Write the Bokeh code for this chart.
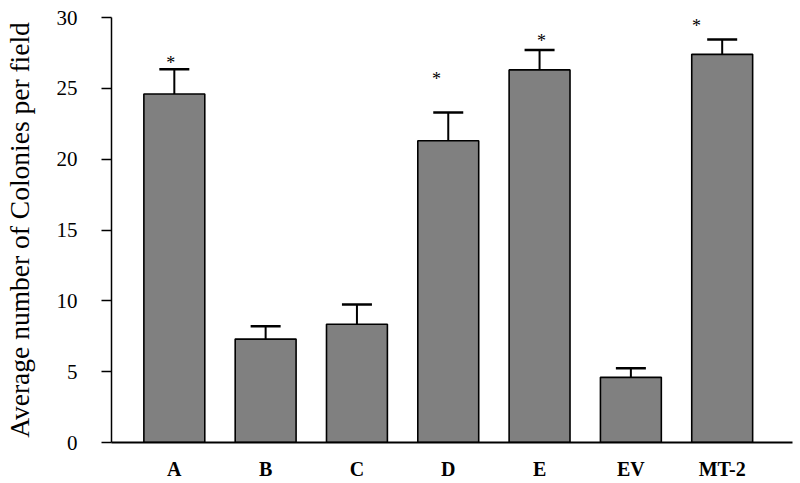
from bokeh.plotting import figure
from bokeh.models import Range1d, FixedTicker, Whisker, TeeHead, ColumnDataSource
from bokeh.core.properties import value
from bokeh.embed import file_html
from bokeh.resources import INLINE

# ---- data ----
categories = ["A", "B", "C", "D", "E", "EV", "MT-2"]
means = [24.6, 7.3, 8.35, 21.3, 26.3, 4.6, 27.4]
errors = [1.75, 0.9, 1.4, 2.0, 1.4, 0.65, 1.05]
y_ticks = [0, 5, 10, 15, 20, 25, 30]

# significance markers (annotation)
star_cats = ["A", "D", "E", "MT-2"]
star_y = [27.15, 26.0, 28.7, 29.72]
star_dx = [-0.04, -0.13, 0.02, -0.28]

idx = list(range(len(categories)))
upper = [m + e for m, e in zip(means, errors)]
src = ColumnDataSource(dict(x=idx, top=means, upper=upper))

FONT = "Liberation Serif"

p = figure(width=800, height=483, output_backend="svg", toolbar_location=None,
           x_range=Range1d(-0.688, 6.77), y_range=Range1d(0, 30),
           min_border_left=110, min_border_right=8, min_border_top=17,
           min_border_bottom=41)
p.outline_line_color = None
p.xgrid.visible = False
p.ygrid.visible = False
p.background_fill_color = "white"
p.border_fill_color = "white"

p.vbar(x="x", top="top", width=0.667, source=src,
       fill_color="#808080", line_color="black", line_width=1.6)

p.add_layout(Whisker(base="x", upper="upper", lower="top", source=src,
                     line_color="black", line_width=2, lower_head=None,
                     upper_head=TeeHead(size=30, line_color="black", line_width=2.5)))

sx = [categories.index(c) + d for c, d in zip(star_cats, star_dx)]
p.text(x=sx, y=star_y, text=["*"] * len(sx), text_font=value(FONT),
       text_font_size="18px", text_align="center", text_baseline="middle",
       y_offset=5, text_color="black")

# y axis
ya = p.yaxis[0]
ya.ticker = FixedTicker(ticks=y_ticks)
ya.minor_tick_line_color = None
ya.major_tick_in = 0
ya.major_tick_out = 10
ya.major_tick_line_width = 1.5
ya.axis_line_width = 1.5
ya.axis_line_color = "black"
ya.major_tick_line_color = "black"
ya.major_label_standoff = 24
ya.major_label_text_font = FONT
ya.major_label_text_font_size = "21px"
ya.major_label_text_color = "black"
ya.axis_label = "Average number of Colonies per field"
ya.axis_label_text_font = FONT
ya.axis_label_text_font_size = "27.5px"
ya.axis_label_text_font_style = "normal"
ya.axis_label_text_color = "black"
ya.axis_label_standoff = 19

# x axis
xa = p.xaxis[0]
xa.ticker = FixedTicker(ticks=idx)
xa.major_label_overrides = {i: c for i, c in zip(idx, categories)}
xa.minor_tick_line_color = None
xa.major_tick_line_color = None
xa.major_tick_in = 0
xa.major_tick_out = 0
xa.axis_line_width = 2
xa.axis_line_color = "black"
xa.major_label_standoff = 15
xa.major_label_text_font = FONT
xa.major_label_text_font_size = "20px"
xa.major_label_text_font_style = "bold"
xa.major_label_text_color = "black"

open("out.html", "w").write(file_html(p, INLINE))
